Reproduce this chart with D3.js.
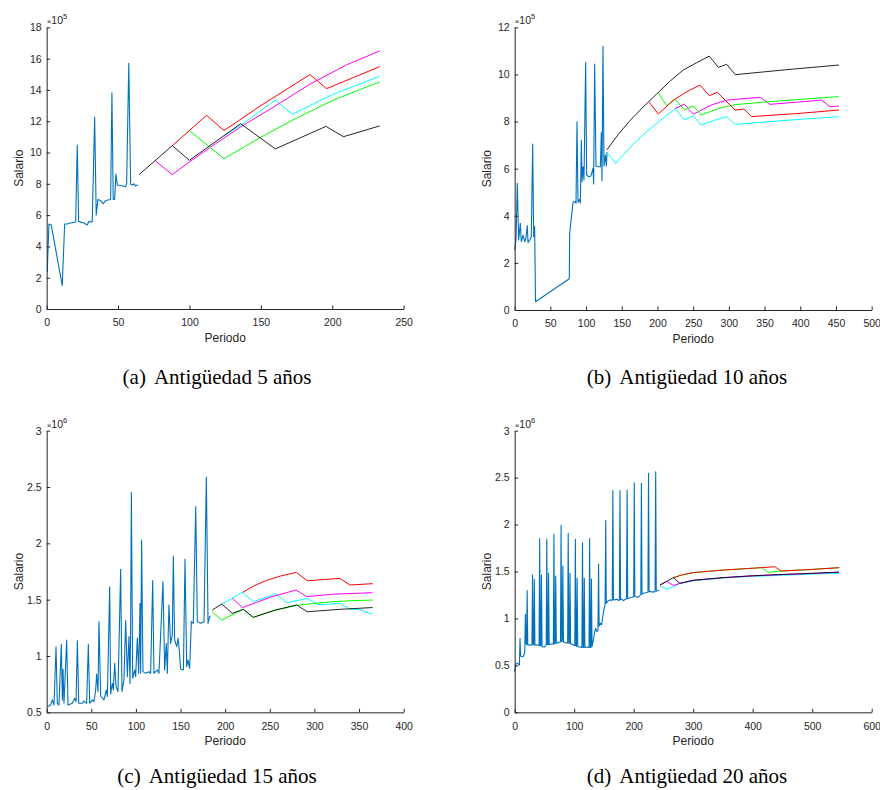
<!DOCTYPE html>
<html><head><meta charset="utf-8">
<script src="https://cdn.jsdelivr.net/npm/d3@7/dist/d3.min.js"></script>
<style>body{margin:0;background:#fff}svg{display:block}</style>
</head><body>
<svg id="chart" width="880" height="790"></svg>
<script>
// ---------------- DATA ----------------
// (a) Antigüedad 5 años  (values ×10^5)
const a_xTicks = [0,50,100,150,200,250];
const a_yTicks = [0,2,4,6,8,10,12,14,16,18];
const a_blue = [[0.4,2.38],[1.6,5.43],[3.2,5.37],[10.9,1.49],[12.6,5.43],[14.4,5.43],[16.8,5.5],[20.3,5.56],[21.4,10.48],[22.4,5.6],[26,5.5],[28.4,5.37],[29.6,5.6],[31.9,5.56],[33.6,12.25],[34.7,6.0],[35.9,7.0],[37.7,6.93],[39.6,6.73],[41.2,6.93],[44.8,7.0],[45.7,13.82],[46.6,7.0],[47.6,7.0],[48.5,8.63],[49.5,7.92],[53,7.86],[55.3,7.82],[56,8.0],[57.5,15.7],[58.8,7.97],[60,7.92],[61.2,8.0],[62.3,7.86],[63.9,7.95]];
const a_cyan = [[124.2,11.08],[136,11.75],[160.1,13.34],[172,12.44],[200,13.7],[233.2,14.87]];
const a_magenta = [[75.9,9.48],[88,8.59],[100,9.4],[118,10.55],[136,11.65],[160,12.97],[184,14.35],[210,15.6],[233.2,16.49]];
const a_green = [[99.9,11.4],[124.2,9.61],[149.4,10.95],[175,12.2],[200.7,13.35],[233.2,14.51]];
const a_red = [[88,10.44],[112,12.38],[124.2,11.4],[150,13.0],[184.4,14.98],[196,14.08],[215,14.8],[233.2,15.49]];
const a_black = [[64.7,8.59],[88,10.44],[99.9,9.5],[135.9,11.84],[160.1,10.23],[195.6,11.67],[207.8,11.01],[233.2,11.7]];

// (b) Antigüedad 10 años (values ×10^5)
const b_xTicks = [0,50,100,150,200,250,300,350,400,450,500];
const b_yTicks = [0,2,4,6,8,10,12];
const b_blue = [[0,2.55],[1.9,2.97],[3.7,5.38],[5.6,2.97],[7.9,3.68],[9.3,2.9],[11.7,3.18],[14,2.9],[15.5,3.0],[17.7,3.58],[18.7,2.86],[21,2.97],[23.3,3.11],[25.2,7.05],[26.6,3.11],[28,3.54],[29.2,0.35],[76.5,1.33],[77,3.25],[79.3,3.89],[81.7,4.57],[85,4.6],[85.9,4.53],[87.3,7.99],[88.7,4.57],[91,4.7],[92,4.53],[93.4,7.2],[94.3,5.45],[95.7,6.08],[97.1,5.52],[99.4,10.5],[100.8,5.73],[103.6,5.66],[106.9,5.69],[109.7,6.02],[110.6,5.35],[112,10.44],[113.9,6.11],[116.7,6.08],[120,6.08],[121.4,7.53],[122.3,5.49],[123.7,11.2],[125.1,6.11],[127,6.58],[128.4,6.11],[129.4,6.71]];
const b_cyan = [[128.9,6.72],[141.5,6.23],[160,6.85],[180,7.45],[200,7.95],[225,8.55],[237.6,8.07],[250.2,8.24],[261,7.85],[280,8.05],[297,8.21],[309,7.88],[380,8.05],[454,8.21]];
const b_magenta = [[225,8.55],[237.6,8.74],[250.2,8.31],[275,8.7],[297,8.91],[343.6,9.03],[357.6,8.73],[430,8.91],[441.6,8.63],[454,8.66]];
const b_green = [[201.2,9.22],[212.9,8.67],[225,8.94],[237.6,8.49],[250.2,8.66],[261,8.28],[285,8.55],[309,8.72],[380,8.9],[454,9.06]];
const b_red = [[188.6,8.82],[201.2,8.32],[222,8.9],[240,9.25],[259.6,9.55],[272.6,9.1],[283.8,9.24],[308.6,8.49],[321.2,8.53],[332,8.21],[400,8.35],[454.2,8.49]];
const b_black = [[128.9,6.79],[145,7.45],[161.5,8.04],[180,8.62],[198.9,9.17],[217,9.7],[236.2,10.19],[255,10.5],[272.6,10.78],[285.2,10.3],[296.9,10.43],[309,9.99],[380,10.2],[454.2,10.4]];

// (c) Antigüedad 15 años (values ×10^6)
const c_xTicks = [0,50,100,150,200,250,300,350,400];
const c_yTicks = [0.5,1,1.5,2,2.5,3];
const c_blue = [[0.8,0.55],[4.5,0.565],[6.3,0.61],[8.2,0.565],[10.5,1.08],[11.9,0.58],[13.8,0.565],[16.4,1.104],[17.6,0.61],[18.3,0.882],[19.4,0.58],[22.4,1.142],[23.9,0.565],[28.8,0.58],[31.4,0.625],[32.9,0.595],[34.4,1.136],[35.9,0.58],[40,0.58],[41.8,0.6],[44.8,0.58],[46.7,1.104],[48.2,0.58],[51.2,0.61],[53,0.595],[54.9,0.698],[56,0.84],[57.5,0.684],[58.6,1.305],[60.5,0.645],[64.2,0.61],[66.8,0.698],[68,0.64],[70.6,1.615],[71.7,0.663],[73.6,0.757],[74.7,0.698],[76.2,0.935],[77.7,0.728],[79.9,0.684],[82.9,1.77],[84.4,0.684],[86.6,0.787],[88.5,1.314],[90.4,0.817],[92.2,1.172],[93.4,0.757],[94.1,1.275],[94.9,2.45],[96.4,0.802],[98.6,0.876],[99.7,0.817],[101.6,1.16],[103.1,0.846],[104.6,1.468],[105.3,0.846],[106.4,2.03],[107.9,0.861],[110.9,0.846],[114.6,0.861],[116.5,0.846],[118.8,1.669],[120.2,0.846],[124,0.876],[125.8,0.846],[130.3,1.66],[132.2,0.876],[134,1.113],[135.2,0.846],[137,1.453],[138.9,1.113],[140.8,1.187],[141.9,1.888],[143.4,1.142],[145.7,1.083],[147.2,1.157],[148.6,1.053],[150.1,0.882],[153.2,0.876],[155,1.858],[156.9,0.905],[158.3,0.965],[160.2,0.891],[162.1,1.305],[164.3,1.29],[167,2.326],[168.8,1.305],[172.5,1.29],[176.3,1.305],[178.9,2.586],[180.8,1.29],[182.6,1.349],[183.7,1.355]];
const c_cyan = [[196.1,1.461],[219.5,1.564],[231.5,1.482],[257,1.552],[268.9,1.473],[292,1.51],[304,1.455],[328.7,1.467],[339.9,1.414],[350,1.414],[364.9,1.37]];
const c_magenta = [[208,1.512],[219.5,1.43],[250,1.52],[279.4,1.586],[291.3,1.527],[320,1.548],[364.9,1.562]];
const c_green = [[185.6,1.39],[196.1,1.319],[220.3,1.414],[231.5,1.343],[255,1.405],[280.1,1.45],[292,1.46],[317.5,1.48],[340,1.49],[365.3,1.497]];
const c_red = [[219.5,1.564],[231.6,1.62],[246.5,1.672],[262,1.71],[279.8,1.742],[292,1.668],[328.7,1.689],[339.9,1.63],[365.3,1.642]];
const c_black = [[185.6,1.408],[196.1,1.461],[208,1.379],[220.3,1.414],[231.5,1.343],[255,1.405],[280.1,1.453],[292,1.393],[330,1.415],[365.3,1.43]];

// (d) Antigüedad 20 años (values ×10^6)
const d_xTicks = [0,100,200,300,400,500,600];
const d_yTicks = [0,0.5,1,1.5,2,2.5,3];
const d_blue = [[0,0.433],[2,0.515],[5,0.522],[8,0.504],[9,0.789],[10,0.6],[13,0.593],[15,0.6],[17,0.65],[18,1.047],[19,0.735],[20,0.72],[21,1.296],[22,0.717],[25,0.72],[28,0.715],[29,0.72],[30,1.463],[31,0.72],[32,0.72],[33,1.417],[34,0.715],[38,0.72],[41,0.71],[42,1.852],[43,0.71],[44,0.71],[45,1.463],[46,0.7],[50,0.695],[53,0.72],[54,1.846],[55,0.72],[56,0.72],[57,1.481],[58,0.72],[62,0.73],[65,0.725],[66,1.899],[67,0.73],[68,0.73],[69,1.452],[70,0.735],[74,0.745],[77,0.75],[78,1.991],[79,0.755],[80,0.755],[81,1.558],[82,0.75],[86,0.74],[89,0.74],[90,1.906],[91,0.735],[92,0.735],[93,1.481],[94,0.73],[98,0.72],[101,0.71],[102,1.842],[103,0.71],[104,0.705],[105,1.428],[106,0.7],[110,0.695],[113,0.69],[114,1.807],[115,0.69],[116,0.69],[117,1.428],[118,0.69],[122,0.695],[125,0.69],[126,1.85],[127,0.69],[128,0.69],[129,1.42],[130,0.7],[132,0.76],[134,0.842],[136,0.896],[138,0.86],[140,0.87],[141,1.576],[142,0.92],[144,0.948],[146,0.93],[148,1.019],[151,1.126],[152,1.144],[153,2.042],[154,1.16],[156,1.18],[160,1.198],[163,1.19],[164,1.2],[165,2.361],[166,1.198],[170,1.2],[172,1.205],[175,1.19],[176,1.2],[177,2.361],[178,1.2],[180,1.205],[183,1.19],[186,1.205],[188,1.21],[189,2.368],[190,1.21],[192,1.216],[197,1.226],[200,1.23],[201,2.446],[202,1.234],[205,1.23],[208,1.226],[211,1.25],[212,1.25],[213,2.439],[214,1.26],[217,1.269],[222,1.276],[224,1.28],[225,2.546],[226,1.285],[228,1.287],[233,1.28],[236,1.29],[237,2.563],[238,1.29],[240,1.294],[243,1.3]];
const d_cyan = [[244.3,1.35],[256,1.31],[266.7,1.34],[277.9,1.372],[300,1.4],[350,1.43],[400,1.448],[450,1.46],[500,1.472],[545,1.482]];
const d_green = [[266.7,1.434],[280,1.462],[300,1.488],[350,1.515],[415,1.541],[426.3,1.491],[447.6,1.505],[500,1.522],[545.6,1.541]];
const d_magenta = [[244.3,1.356],[255.5,1.395],[266.7,1.352],[277.9,1.374],[300,1.405],[350,1.434],[400,1.453],[450,1.467],[500,1.479],[545,1.492]];
const d_red = [[266.7,1.434],[280,1.462],[300,1.488],[350,1.515],[415,1.541],[437.5,1.551],[447.6,1.505],[500,1.522],[545.6,1.541]];
const d_black = [[244.3,1.356],[255.5,1.395],[266.7,1.434],[277.9,1.374],[300,1.407],[350,1.435],[400,1.455],[450,1.469],[500,1.481],[545,1.494]];

const captions = ["(a)","(b)","(c)","(d)"];
const captionTexts = ["Antigüedad 5 años","Antigüedad 10 años","Antigüedad 15 años","Antigüedad 20 años"];
const exponents = ["5","5","6","6"];

// ---------------- LAYOUT ----------------
const colors = {blue:"#0072BD", cyan:"#00FFFF", magenta:"#FF00FF", green:"#00FF00", red:"#FF0000", black:"#000000"};
const panels = [
  {left:46.67, top:27.33, bottom:309, xMax:250, yMin:0, yMax:18, xTicks:a_xTicks, yTicks:a_yTicks,
   series:[["blue",a_blue],["cyan",a_cyan],["magenta",a_magenta],["green",a_green],["red",a_red],["black",a_black]], capX:217, capY:384},
  {left:514.67, top:27.33, bottom:310, xMax:500, yMin:0, yMax:12, xTicks:b_xTicks, yTicks:b_yTicks,
   series:[["blue",b_blue],["cyan",b_cyan],["magenta",b_magenta],["green",b_green],["red",b_red],["black",b_black]], capX:687, capY:384},
  {left:46.67, top:430.67, bottom:712.33, xMax:400, yMin:0.5, yMax:3, xTicks:c_xTicks, yTicks:c_yTicks,
   series:[["blue",c_blue],["cyan",c_cyan],["magenta",c_magenta],["green",c_green],["red",c_red],["black",c_black]], capX:217, capY:783},
  {left:514.67, top:430.67, bottom:712.33, xMax:600, yMin:0, yMax:3, xTicks:d_xTicks, yTicks:d_yTicks,
   series:[["blue",d_blue],["cyan",d_cyan],["green",d_green],["magenta",d_magenta],["red",d_red],["black",d_black]], capX:687, capY:783}
];
const W = 357;
const svg = d3.select("#chart");
const axisColor = "#262626";

panels.forEach((p, i) => {
  const x = d3.scaleLinear().domain([0, p.xMax]).range([p.left, p.left + W]);
  const y = d3.scaleLinear().domain([p.yMin, p.yMax]).range([p.bottom, p.top]);
  const g = svg.append("g");

  // lines
  const line = d3.line().x(d => x(d[0])).y(d => y(d[1]));
  p.series.forEach(([c, data]) => {
    g.append("path").datum(data).attr("d", line)
      .attr("fill", "none").attr("stroke", colors[c])
      .attr("stroke-width", c === "blue" ? 1.1 : 1)
      .attr("stroke-linejoin", "round")
      .attr("stroke-opacity", c === "black" ? 0.85 : 1);
  });

  // axes
  const xAxis = d3.axisBottom(x).tickValues(p.xTicks).tickFormat(d => String(d))
    .tickSizeInner(-3.5).tickSizeOuter(0).tickPadding(10);
  const yAxis = d3.axisLeft(y).tickValues(p.yTicks).tickFormat(d => String(d))
    .tickSizeInner(-3.5).tickSizeOuter(0).tickPadding(5);
  const gx = g.append("g").attr("transform", `translate(0,${p.bottom})`).call(xAxis);
  const gy = g.append("g").attr("transform", `translate(${p.left},0)`).call(yAxis);
  [gx, gy].forEach(ax => {
    ax.selectAll("path,line").attr("stroke", axisColor).attr("stroke-width", 1);
    ax.selectAll("text").attr("fill", axisColor).style("font-family", "'Liberation Sans', Arial, sans-serif").style("font-size", "10.5px");
  });

  // exponent label
  const ex = g.append("text").attr("x", p.left).attr("y", p.top - 3)
    .attr("fill", axisColor).style("font-family", "'Liberation Sans', Arial, sans-serif").style("font-size", "10.5px");
  ex.append("tspan").text("×").style("font-size", "8px");
  ex.append("tspan").text("10");
  ex.append("tspan").text(exponents[i]).attr("dy", -5).style("font-size", "7.5px");

  // axis titles
  g.append("text").attr("x", p.left + W / 2).attr("y", p.bottom + 32.5)
    .attr("text-anchor", "middle").attr("fill", axisColor)
    .style("font-family", "'Liberation Sans', Arial, sans-serif").style("font-size", "12px").text("Periodo");
  g.append("text").attr("transform", `translate(${p.left - 23.5},${(p.top + p.bottom) / 2}) rotate(-90)`)
    .attr("text-anchor", "middle").attr("fill", axisColor)
    .style("font-family", "'Liberation Sans', Arial, sans-serif").style("font-size", "12px").text("Salario");

  // caption
  const cap = svg.append("text").attr("x", p.capX).attr("y", p.capY).attr("text-anchor", "middle")
    .attr("fill", "#000").style("font-family", "'Liberation Serif', 'Times New Roman', serif").style("font-size", "21px");
  cap.append("tspan").text(captions[i]);
  cap.append("tspan").attr("dx", 8).text(captionTexts[i]);
});
</script>
</body></html>
